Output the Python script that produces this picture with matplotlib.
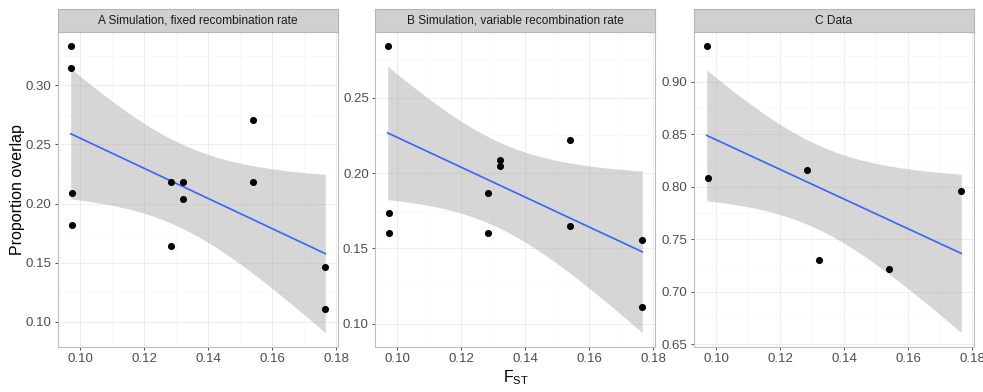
import matplotlib
matplotlib.use("Agg")
import matplotlib.pyplot as plt
import numpy as np

plt.rcParams['font.family'] = ['Liberation Sans', 'DejaVu Sans']

# values (some points are drawn twice on the same spot)
titles = ["A Simulation, fixed recombination rate",
          "B Simulation, variable recombination rate",
          "C Data"]

fst_a = [0.0970, 0.0970, 0.0974, 0.0974, 0.1285, 0.1285,
         0.1322, 0.1322, 0.1541, 0.1541, 0.1766, 0.1766]
overlap_a = [0.333, 0.315, 0.209, 0.182, 0.218, 0.1645,
             0.218, 0.204, 0.271, 0.218, 0.1464, 0.1112]

fst_b = [0.0970, 0.0970, 0.0974, 0.0974, 0.1285, 0.1285,
         0.1322, 0.1322, 0.1541, 0.1541, 0.1766, 0.1766]
overlap_b = [0.2842, 0.2842, 0.1734, 0.1603, 0.1867, 0.1603,
             0.2089, 0.2044, 0.222, 0.1646, 0.1555, 0.1114]

fst_c = [0.0970, 0.0970, 0.0974, 0.0974, 0.1285, 0.1285,
         0.1322, 0.1322, 0.1541, 0.1541, 0.1766, 0.1766]
overlap_c = [0.934, 0.934, 0.808, 0.808, 0.816, 0.816,
             0.730, 0.730, 0.722, 0.722, 0.796, 0.796]

yticks = [[0.10, 0.15, 0.20, 0.25, 0.30],
          [0.10, 0.15, 0.20, 0.25],
          [0.65, 0.70, 0.75, 0.80, 0.85, 0.90]]
xticks = [0.10, 0.12, 0.14, 0.16, 0.18]

# t quantiles (0.975) by degrees of freedom
T975 = {4: 2.776, 5: 2.571, 6: 2.447, 7: 2.365, 8: 2.306, 9: 2.262, 10: 2.228, 11: 2.201}


def lm_band(x, y, n=80):
    # like geom_smooth(method="lm")
    x = np.asarray(x); y = np.asarray(y)
    X = np.column_stack([np.ones_like(x), x])
    beta, *_ = np.linalg.lstsq(X, y, rcond=None)
    resid = y - X @ beta
    df = len(x) - 2
    s2 = resid @ resid / df
    cov = s2 * np.linalg.inv(X.T @ X)
    xs = np.linspace(x.min(), x.max(), n)
    Xs = np.column_stack([np.ones_like(xs), xs])
    fit = Xs @ beta
    se = np.sqrt(np.einsum('ij,jk,ik->i', Xs, cov, Xs))
    t = T975[df]
    return xs, fit, fit - t * se, fit + t * se


fig = plt.figure(figsize=(9.83, 3.92), dpi=100)
lefts = [58 / 983, 375 / 983, 694 / 983]
width = 280 / 983
bottom = 1 - 347 / 392
top = 1 - 32 / 392
strip_top = 1 - 9 / 392

datasets = [(fst_a, overlap_a), (fst_b, overlap_b), (fst_c, overlap_c)]
for i, (x, y) in enumerate(datasets):
    ax = fig.add_axes([lefts[i], bottom, width, top - bottom])
    xs, fit, lo, hi = lm_band(x, y)

    ax.fill_between(xs, lo, hi, color='#999999', alpha=0.4, lw=0, zorder=2)
    ax.plot(xs, fit, color='#3366FF', lw=1.2, zorder=3)
    # overlapping duplicates only need one dot
    pts = np.unique(np.column_stack([x, y]), axis=0)
    ax.scatter(pts[:, 0], pts[:, 1], s=26, color='black', zorder=4, lw=0)

    ax.set_xticks(xticks)
    ax.set_xticklabels(["%.2f" % v for v in xticks])
    ax.set_yticks(yticks[i])
    ax.set_yticklabels(["%.2f" % v for v in yticks[i]])
    # minor grid between majors
    ax.set_xticks([v + 0.01 for v in xticks[:-1]] + [xticks[0] - 0.01], minor=True)
    yt = yticks[i]
    step = yt[1] - yt[0]
    ax.set_yticks([yt[0] - step / 2] + [v + step / 2 for v in yt], minor=True)

    # limits last, so the minor ticks don't widen them
    xmin, xmax = min(x), max(x)
    ymin = min(min(y), lo.min()); ymax = max(max(y), hi.max())
    xr = xmax - xmin; yr = ymax - ymin
    ax.set_xlim(xmin - 0.05 * xr, xmax + 0.05 * xr)
    ax.set_ylim(ymin - 0.05 * yr, ymax + 0.05 * yr)

    ax.grid(which='major', color='#EBEBEB', lw=0.6, zorder=0)
    ax.grid(which='minor', color='#F7F7F7', lw=0.5, zorder=0)
    ax.set_axisbelow(True)
    ax.tick_params(which='minor', length=0)
    ax.tick_params(which='major', length=2.5, width=0.6, color='#333333',
                   labelsize=9.5, labelcolor='#4D4D4D', pad=2)
    for sp in ax.spines.values():
        sp.set_color('#BDBDBD')
        sp.set_linewidth(0.8)

    # facet strip
    sax = fig.add_axes([lefts[i], top, width, strip_top - top])
    sax.set_facecolor('#D0D0D0')
    sax.set_xticks([]); sax.set_yticks([])
    for sp in sax.spines.values():
        sp.set_color('#B5B5B5')
        sp.set_linewidth(0.8)
    sax.text(0.5, 0.48, titles[i], ha='center', va='center', fontsize=8.6,
             color='#1A1A1A', transform=sax.transAxes)

fig.text(18 / 983, (bottom + top) / 2, "Proportion overlap", rotation=90,
         ha='center', va='center', fontsize=11.5, color='black')
fig.text(516 / 983, 1 - 378 / 392, r"F$_{\mathregular{ST}}$", ha='center',
         va='center', fontsize=11.5, color='black')

fig.savefig("out.png", dpi=100)
